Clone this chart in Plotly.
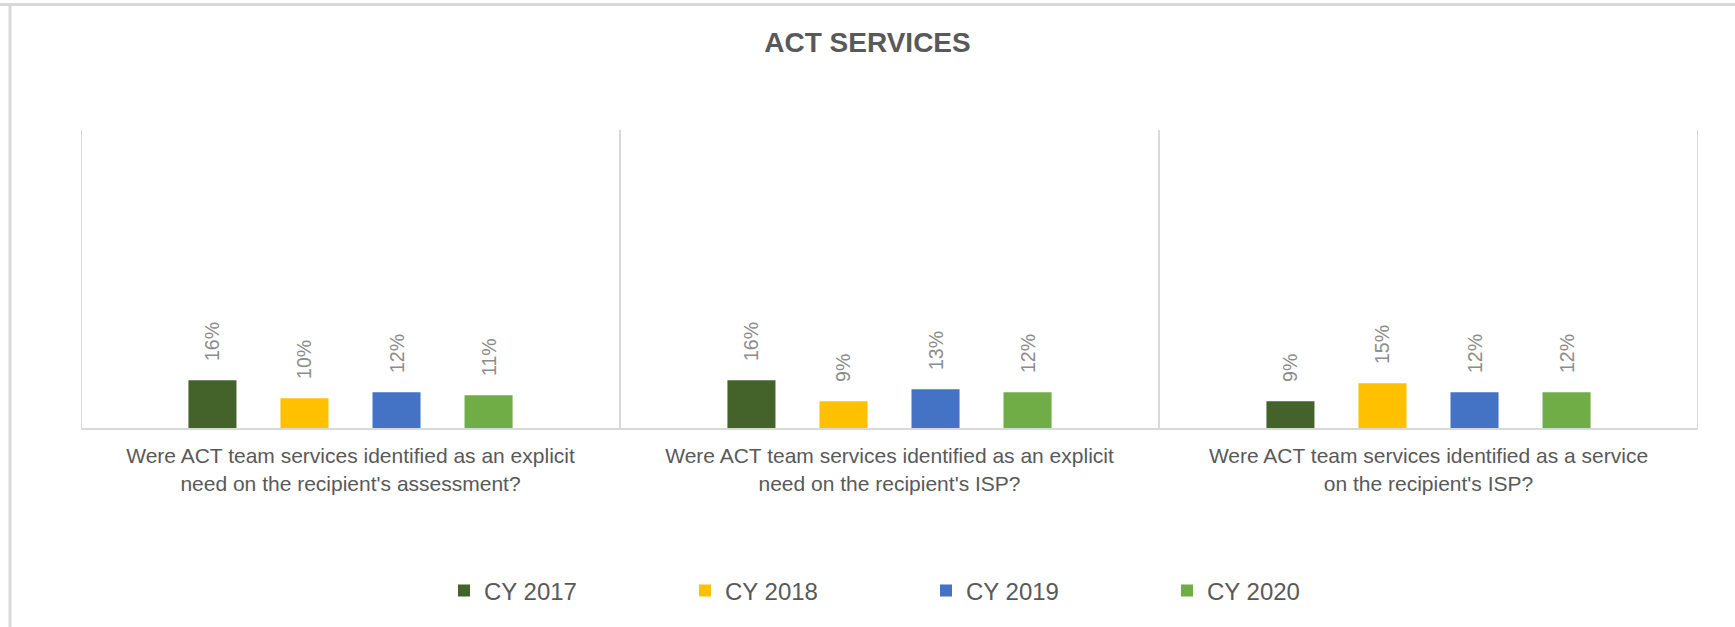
import plotly.graph_objects as go

# ---- data ----
categories = [
    "Were ACT team services identified as an explicit<br>need on the recipient's assessment?",
    "Were ACT team services identified as an explicit<br>need on the recipient's ISP?",
    "Were ACT team services identified as a service<br>on the recipient's ISP?",
]
series_names = ["CY 2017", "CY 2018", "CY 2019", "CY 2020"]
cy2017 = [0.16, 0.16, 0.09]
cy2018 = [0.10, 0.09, 0.15]
cy2019 = [0.12, 0.13, 0.12]
cy2020 = [0.11, 0.12, 0.12]
series_values = [cy2017, cy2018, cy2019, cy2020]
colors = ["#43632B", "#FFC000", "#4472C4", "#70AD47"]

FONT = "Liberation Sans, Arial, sans-serif"
W, H = 1735, 627
L, R, T, B = 81, 37, 130, 199
PW = W - L - R
PH = H - T - B

fig = go.Figure()
for name, vals, col in zip(series_names, series_values, colors):
    fig.add_trace(go.Bar(
        name=name, x=categories, y=vals,
        marker=dict(color=col, line=dict(width=0)),
        texttemplate="\u00a0\u00a0\u00a0%{y:.0%}",
        textposition="outside", textangle=-90, constraintext="none",
        textfont=dict(family=FONT, size=19.5, color="#8C8C8C"),
        cliponaxis=False, hoverinfo="x+y+name",
    ))

def px_to_paper_x(px):
    return (px - L) / PW

def px_to_paper_y(py):
    return (H - B - py) / PH

shapes = []
for xb in [-0.5, 0.5, 1.5, 2.5]:
    shapes.append(dict(type="line", xref="x", yref="y", x0=xb, x1=xb, y0=0, y1=1,
                       line=dict(color="#D9D9D9", width=2), layer="below"))
# outer chart border (top and left edges)
shapes.append(dict(type="line", xref="paper", yref="paper",
                   x0=px_to_paper_x(0), x1=px_to_paper_x(W),
                   y0=px_to_paper_y(4.5), y1=px_to_paper_y(4.5),
                   line=dict(color="#D9D9D9", width=3)))
shapes.append(dict(type="line", xref="paper", yref="paper",
                   x0=px_to_paper_x(10), x1=px_to_paper_x(10),
                   y0=px_to_paper_y(4.5), y1=px_to_paper_y(H),
                   line=dict(color="#D9D9D9", width=3)))

fig.update_layout(
    width=W, height=H,
    margin=dict(l=L, r=R, t=T, b=B, autoexpand=False),
    paper_bgcolor="white", plot_bgcolor="white",
    barmode="group", bargap=0.317, bargroupgap=0.478,
    title=dict(text="<b>ACT SERVICES</b>", x=0.5, xref="container", xanchor="center",
               y=1 - 42 / H, yref="container", yanchor="middle",
               font=dict(family=FONT, size=28, color="#595959")),
    xaxis=dict(type="category", range=[-0.5, 2.5], showgrid=False, zeroline=False,
               showline=True, linecolor="#D9D9D9", linewidth=2, ticks="",
               ticklabelstandoff=8,
               tickfont=dict(family=FONT, size=21, color="#595959")),
    yaxis=dict(range=[0, 1], visible=False, showgrid=False, zeroline=False),
    showlegend=True,
    legend=dict(orientation="h", x=px_to_paper_x(444), xanchor="left",
                y=px_to_paper_y(591), yanchor="middle", entrywidth=196,
                font=dict(family=FONT, size=24, color="#595959"),
                bgcolor="rgba(0,0,0,0)"),
    shapes=shapes,
)

fig.write_html("out.html", config={"displayModeBar": False},
               post_script="document.body.style.margin='0';")
